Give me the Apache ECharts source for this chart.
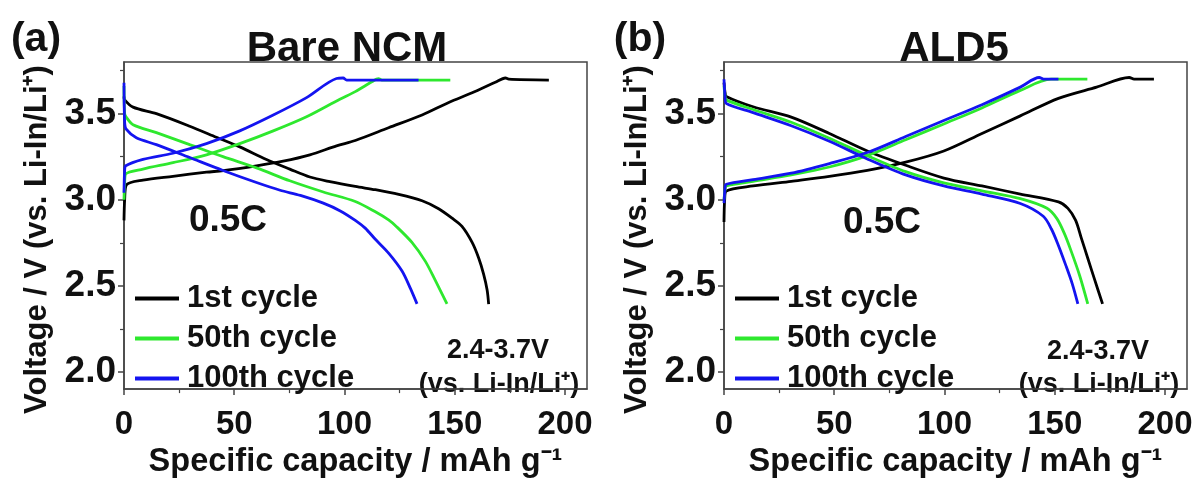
<!DOCTYPE html>
<html><head><meta charset="utf-8">
<script src="https://cdn.jsdelivr.net/npm/echarts@6/dist/echarts.min.js"></script>
<style>html,body{margin:0;padding:0;background:#fff}#c{width:1201px;height:484px}</style>
</head><body><div id="c"></div>
<script>
// ---- data (x: specific capacity mAh/g, y: voltage V) ----
const seriesNames = ['1st cycle', '50th cycle', '100th cycle'];
const xTicks = [0, 50, 100, 150, 200];
const yTicks = [2.0, 2.5, 3.0, 3.5];
const yMinorTicks = [2.25, 2.75, 3.25, 3.75];
const xMinorTicks = [25, 75, 125, 175];

// Panel (a) Bare NCM
const a1Charge = [[0,2.88],[0.3,3.0],[1.06,3.086],[8.6,3.114],[22.2,3.136],[37.4,3.16],[45,3.169],[60.1,3.197],[72.2,3.224],[84.3,3.261],[96.4,3.313],[104.9,3.344],[120,3.418],[135.2,3.492],[147.3,3.565],[157.9,3.621],[168.4,3.682],[173,3.707],[174.5,3.70],[192.7,3.695]];
const a1Discharge = [[0,3.60],[0.3,3.58],[4.1,3.538],[14.7,3.50],[29.8,3.427],[41.9,3.363],[52.5,3.307],[64.6,3.234],[75.2,3.178],[84.3,3.132],[93.4,3.105],[104.9,3.077],[114,3.058],[124.6,3.031],[135.2,2.994],[142.7,2.948],[148.8,2.893],[153.3,2.845],[157.9,2.752],[160.9,2.66],[163.1,2.568],[164.7,2.476],[165.4,2.393]];
const a50Charge = [[0,3.0],[0.3,3.1],[0.8,3.15],[8.6,3.178],[22.2,3.215],[37.4,3.261],[52.5,3.326],[67.7,3.40],[82.8,3.482],[97.9,3.584],[104.9,3.628],[112.4,3.685],[115.4,3.704],[117,3.695],[148,3.695]];
const a50Discharge = [[0,3.66],[0.3,3.5],[1,3.48],[4.1,3.436],[14.7,3.39],[29.8,3.32],[44.9,3.25],[60.1,3.185],[75.2,3.11],[90.4,3.045],[104.9,2.99],[114,2.93],[120,2.883],[123.5,2.845],[130.6,2.752],[136.7,2.642],[141.2,2.531],[146.5,2.395]];
const a100Charge = [[0,3.04],[0.3,3.17],[0.8,3.197],[8.6,3.234],[22.2,3.27],[37.4,3.326],[52.5,3.40],[67.7,3.492],[82.8,3.593],[96.4,3.704],[99.4,3.707],[101,3.695],[133.6,3.695]];
const a100Discharge = [[0,3.68],[0.3,3.45],[1,3.41],[5.6,3.36],[14.7,3.32],[29.8,3.245],[44.9,3.17],[60.1,3.10],[70.8,3.055],[80,3.025],[90.4,2.98],[98.1,2.935],[104.9,2.88],[109.4,2.835],[114,2.77],[120,2.69],[126.1,2.586],[129.9,2.485],[132.9,2.395]];

// Panel (b) ALD5
const b1Charge = [[0,2.87],[0.3,3.0],[1,3.05],[13.2,3.08],[30.5,3.107],[47.8,3.135],[65,3.17],[82.4,3.218],[99.7,3.283],[117,3.385],[134.4,3.487],[151.7,3.589],[169,3.654],[183.8,3.71],[186,3.70],[195,3.70]];
const b1Discharge = [[0,3.68],[0.5,3.62],[1,3.6],[13.2,3.54],[30.5,3.48],[47.8,3.385],[65,3.283],[82.4,3.2],[99.7,3.126],[117,3.08],[134.4,3.033],[151.7,2.987],[156,2.95],[159.5,2.88],[162,2.78],[165,2.66],[168,2.54],[171.7,2.395]];
const b50Charge = [[0,3.0],[0.5,3.06],[1,3.08],[13.2,3.107],[30.5,3.144],[47.8,3.19],[65,3.256],[82.4,3.348],[99.7,3.44],[117,3.533],[134.4,3.635],[148.3,3.70],[164.8,3.70]];
const b50Discharge = [[0,3.66],[0.5,3.6],[1,3.58],[13.2,3.524],[30.5,3.45],[47.8,3.357],[65,3.256],[82.4,3.163],[99.7,3.098],[117,3.052],[134.4,3.006],[146.5,2.95],[151,2.89],[154.5,2.80],[157.5,2.70],[161.3,2.56],[165,2.395]];
const b100Charge = [[0,2.98],[0.5,3.07],[1,3.09],[13.2,3.117],[30.5,3.154],[47.8,3.21],[65,3.274],[82.4,3.367],[99.7,3.46],[117,3.552],[134.4,3.654],[143,3.71],[145,3.70],[151.7,3.70]];
const b100Discharge = [[0,3.7],[0.5,3.59],[1,3.56],[13.2,3.506],[30.5,3.43],[47.8,3.34],[65,3.237],[82.4,3.144],[99.7,3.08],[117,3.033],[134.4,2.978],[144.8,2.904],[148.5,2.83],[151.5,2.74],[155,2.62],[158,2.51],[160.5,2.395]];

// ---- style ----
const FONT = "'Liberation Sans',Arial,sans-serif";
const colors = ['#000000', '#2ee82e', '#1414f0'];
const boxColor = '#444';

const panels = [
  {left: 124, titleX: 342, title: 'Bare NCM', data: [[a1Charge, a1Discharge],[a50Charge, a50Discharge],[a100Charge, a100Discharge]]},
  {left: 724, titleX: 949, title: 'ALD5', data: [[b1Charge, b1Discharge],[b50Charge, b50Discharge],[b100Charge, b100Discharge]]}
];
const GW = 463, GT = 62, GH = 343;

const grids = [], xAxes = [], yAxes = [], series = [], titles = [], legends = [], graphics = [];
panels.forEach((p, i) => {
  grids.push({left: p.left, top: GT, width: GW, height: GH, show: true, borderColor: boxColor, borderWidth: 1.5, backgroundColor: 'transparent'});
  xAxes.push({gridIndex: i, type: 'value', min: 0, max: 210,
    name: 'Specific capacity / mAh g⁻¹', nameLocation: 'middle', nameGap: 50,
    nameTextStyle: {fontFamily: FONT, fontWeight: 'bold', fontSize: 32.5, color: '#111'},
    axisLine: {show: true, onZero: false, lineStyle: {color: boxColor, width: 1.5}},
    axisTick: {show: true, inside: false, length: 6, customValues: xTicks, lineStyle: {color: boxColor, width: 1.5}},
    axisLabel: {customValues: xTicks, margin: 19, fontFamily: FONT, fontWeight: 'bold', fontSize: 33, color: '#111'},
    splitLine: {show: false}});
  xAxes.push({gridIndex: i, type: 'value', min: 0, max: 210, position: 'bottom',
    axisLine: {show: false}, axisLabel: {show: false}, splitLine: {show: false},
    axisTick: {show: true, length: 4, customValues: xMinorTicks, lineStyle: {color: boxColor, width: 1.2}}});
  yAxes.push({gridIndex: i, type: 'value', min: 1.9, max: 3.8,
    name: 'Voltage / V (vs. Li-In/Li⁺)', nameLocation: 'middle', nameGap: 71,
    nameTextStyle: {fontFamily: FONT, fontWeight: 'bold', fontSize: 31, color: '#111', padding: [0, 28, 0, 0]},
    axisLine: {show: true, onZero: false, lineStyle: {color: boxColor, width: 1.5}},
    axisTick: {show: true, length: 6, customValues: yTicks, lineStyle: {color: boxColor, width: 1.5}},
    axisLabel: {customValues: yTicks, margin: 8, formatter: v => v.toFixed(1), fontFamily: FONT, fontWeight: 'bold', fontSize: 37, color: '#111'},
    splitLine: {show: false}});
  yAxes.push({gridIndex: i, type: 'value', min: 1.9, max: 3.8, position: 'left',
    axisLine: {show: false}, axisLabel: {show: false}, splitLine: {show: false},
    axisTick: {show: true, length: 4, customValues: yMinorTicks, lineStyle: {color: boxColor, width: 1.2}}});
  p.data.forEach((pair, k) => {
    pair.forEach(d => {
      series.push({type: 'line', name: seriesNames[k], xAxisIndex: i * 2, yAxisIndex: i * 2,
        data: d, showSymbol: false, symbol: 'none', smooth: 0.3,
        lineStyle: {color: colors[k], width: 2.8}, itemStyle: {color: colors[k]}, z: 2 + k, animation: false});
    });
  });
  titles.push({text: p.title, left: p.titleX, top: 23, textAlign: 'center',
    textStyle: {fontFamily: FONT, fontWeight: 'bold', fontSize: 42, color: '#111'}});
  legends.push({left: p.left + 11, top: 283, padding: 0, orient: 'vertical', itemWidth: 44, itemHeight: 4, itemGap: 9,
    icon: 'rect', data: seriesNames,
    textStyle: {fontFamily: FONT, fontWeight: 'bold', fontSize: 31, lineHeight: 31, color: '#111', padding: [0, 0, 0, 3]}});
});

const t = (x, y, s, size) => ({type: 'text', style: {x: x, y: y, text: s, textAlign: 'center', textVerticalAlign: 'middle', font: 'bold ' + size + 'px ' + FONT, fill: '#111'}});
graphics.push(
  t(36, 40, '(a)', 41), t(640, 40, '(b)', 41),
  t(228, 221, '0.5C', 37), t(882, 223, '0.5C', 37),
  t(498, 351, '2.4-3.7V', 27), t(499, 385, '(vs. Li-In/Li⁺)', 27),
  t(1098, 352, '2.4-3.7V', 27), t(1099, 385, '(vs. Li-In/Li⁺)', 27)
);

const chart = echarts.init(document.getElementById('c'), null, {renderer: 'canvas'});
chart.setOption({
  backgroundColor: '#fff', animation: false,
  title: titles, legend: legends, grid: grids, xAxis: xAxes, yAxis: yAxes, series: series, graphic: graphics
});
</script></body></html>
